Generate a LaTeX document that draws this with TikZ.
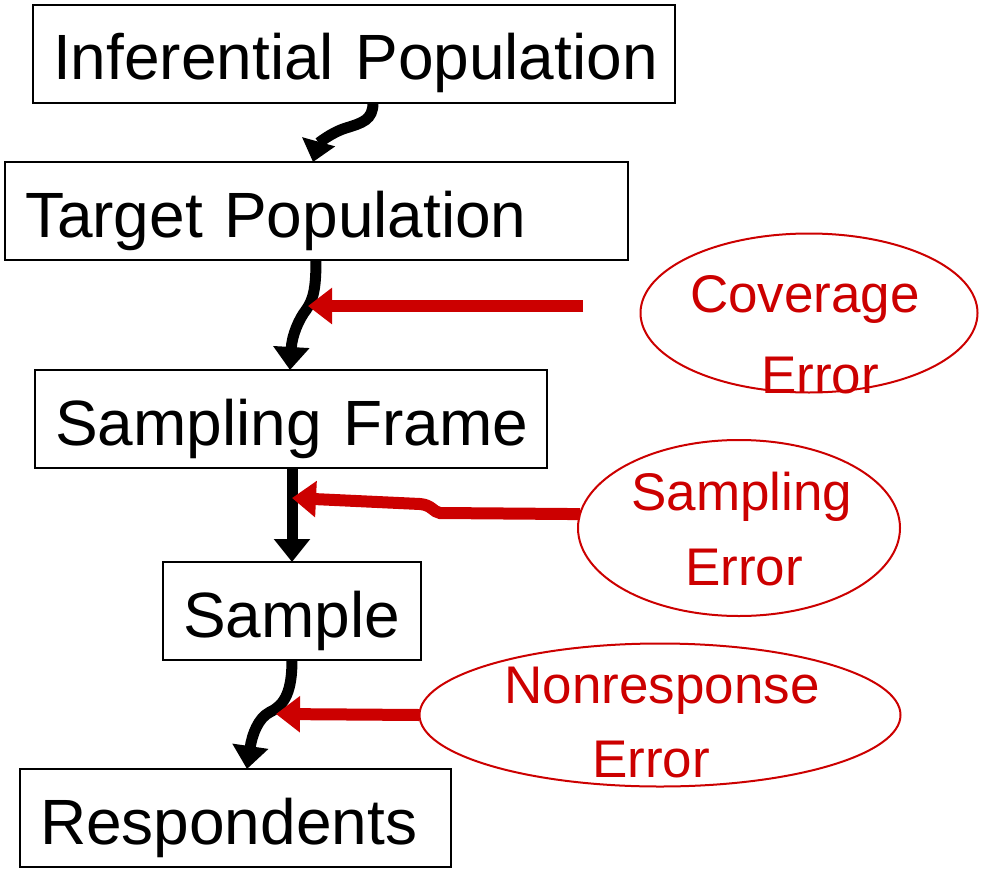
\documentclass[tikz,border=0pt]{standalone}
\usepackage{fontspec}
\setmainfont{Liberation Sans}
\usepackage{xcolor}
\usetikzlibrary{arrows.meta,shapes.geometric}
\definecolor{errred}{RGB}{204,0,0}
\newcommand{\stagefont}{\fontsize{64}{70}\selectfont\spaceskip=12pt\relax}

\begin{document}
\begin{tikzpicture}[x=1pt,y=-1pt,
  stage/.style={draw,line width=2pt,anchor=north west,outer sep=0pt,align=left,inner xsep=20pt,inner ysep=0pt,minimum height=98pt,text height=52pt,text depth=0pt,font=\stagefont},
  errell/.style={draw=errred,line width=2pt,ellipse,inner sep=0pt,outer sep=0pt},
  errtxt/.style={anchor=base,text=errred,inner sep=0pt,font=\fontsize{53}{64}\selectfont},
  flow/.style={line width=11pt,-{Triangle[length=23pt,width=35pt]}},
  feed/.style={errred,line width=12pt,-{Triangle[length=24pt,width=35pt]}}]
\useasboundingbox (0,0) rectangle (987,872);

\node[stage,text width=602pt] (inf) at (33,5) {\mbox{Inferential Population}};
\node[stage,text width=583pt] (tgt) at (5,162) {\mbox{Target Population}};
\node[stage,text width=472pt] (frame) at (35,370) {\mbox{Sampling Frame}};
\node[stage,text width=218pt] (smp) at (163,562) {\mbox{Sample}};
\node[stage,text width=391pt] (resp) at (20,769) {\mbox{Respondents}};

\node[errell,minimum width=337pt,minimum height=159pt] (coverr) at (809,313) {};
\node[errell,minimum width=322pt,minimum height=176pt] (samerr) at (739,528) {};
\node[errell,minimum width=481pt,minimum height=143pt] (nonerr) at (660,715) {};
\node[errtxt] (covtop) at (805,312) {Coverage};
\node[errtxt] (covbot) at (820,393) {Error};
\node[errtxt] (samtop) at (742,510) {Sampling};
\node[errtxt] (sambot) at (744,585) {Error};
\node[errtxt] (nontop) at (662,703) {Nonresponse};
\node[errtxt] (nonbot) at (651,777) {Error};

%\draw[flow] (inf) -- (tgt);
\draw[flow,-{Triangle[length=21pt,width=33pt]}] ([xshift=340pt]inf.south west) .. controls +(0,17) and (362,123) .. (346,128) .. controls (330,133) and (318,144) .. ([xshift=308pt]tgt.north west);
\draw[flow] ([xshift=311pt]tgt.south west) .. controls +(0,30) and (313,300) .. (306,310) .. controls (299,319) and (292,335) .. ([xshift=255pt]frame.north west);
\draw[flow] ([xshift=257pt]frame.south west) -- ([xshift=129pt]smp.north west);
\draw[flow] ([xshift=129pt]smp.south west) .. controls +(0,31) and (285,705) .. (270,712) .. controls (258,718) and (252,735) .. ([xshift=227pt]resp.north west);

\coordinate (covtail) at (583,306);
\coordinate (covhit) at (308,306);
\coordinate (samhit) at (292,498);
\coordinate (nonhit) at (276,714);
\draw[feed] (covtail) -- (covhit);
\draw[feed] (samerr.175) -- (440,513) .. controls (433,512) and (432,505) .. (420,504) -- (samhit);
\draw[feed] (nonerr.west) -- (nonhit);
\end{tikzpicture}
\end{document}
